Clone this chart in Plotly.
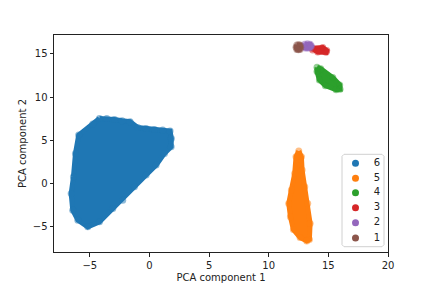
import plotly.graph_objects as go

labels = ["6", "5", "4", "3", "2", "1"]
colors = ["#1f77b4", "#ff7f0e", "#2ca02c", "#d62728", "#9467bd", "#8c564b"]

x6 = [-4.19,-3.58,-2.93,-2.29,-1.62,-0.98,-0.28,0.42,1.12,1.73,1.84,1.82,1.26,0.56,-0.28,-1.26,-2.24,-3.07,-4.19,-5.17,-6.0,-6.43,-6.56,-6.37,-6.2,-5.93,-4.75]
y6 = [7.5,7.5,7.4,7.25,7.13,6.47,6.35,6.24,6.16,6.05,5.19,4.22,3.45,2.09,0.93,-0.43,-1.98,-2.94,-4.5,-5.08,-4.3,-3.14,-1.2,0.73,3.45,5.58,6.86]
x5 = [12.52,12.74,12.80,13.02,13.27,13.47,13.41,13.19,12.63,12.07,11.82,11.68,11.90,12.18,12.29]
y5 = [3.72,3.06,1.51,-0.43,-2.36,-4.69,-6.55,-6.71,-6.32,-5.39,-3.92,-2.36,-0.81,1.12,3.06]
x4 = [14.05,14.36,15.37,15.95,15.98,15.65,14.75,14.25,14.05]
y4 = [13.45,13.29,12.25,11.40,10.89,10.85,11.32,11.98,12.95]
x3 = [13.63,14.53,14.86,14.81,14.11,13.69]
y3 = [15.66,15.74,15.39,15.19,15.23,15.47]
x2 = [13.02,13.25,13.48,13.58,13.48,13.25,13.02,12.92]
y2 = [16.14,16.18,16.12,15.92,15.72,15.66,15.7,15.92]
x1 = [12.36,12.49,12.62,12.69,12.62,12.49,12.36,12.29]
y1 = [16.03,16.07,16.03,15.78,15.53,15.49,15.53,15.78]

xs = [x6, x5, x4, x3, x2, x1]
ys = [y6, y5, y4, y3, y2, y1]

fig = go.Figure()
for lab, col, x, y in zip(labels, colors, xs, ys):
    fig.add_trace(go.Scatter(
        x=x + x[:1], y=y + y[:1], mode="lines", fill="toself", fillcolor=col,
        line=dict(color=col, width=5), name=lab, showlegend=False, hoverinfo="skip"))
    fig.add_trace(go.Scatter(
        x=x, y=y, mode="markers", marker=dict(color=col, size=7, opacity=0.5, line=dict(width=0)),
        name=lab, showlegend=False))

# Legend panel, laid out in pixel units on its own small axis pair
box_x = [2, 40, 42, 42, 40, 2, 0, 0, 2]
box_y = [0, 0, 2, 90.4, 92.4, 92.4, 90.4, 2, 0]
row_y = [9, 24, 38.5, 53.5, 68.5, 83.7]
fig.add_trace(go.Scatter(
    x=box_x, y=box_y, xaxis="x2", yaxis="y2", mode="lines", fill="toself",
    fillcolor="rgba(255,255,255,0.8)", line=dict(color="#d0d0d0", width=1),
    showlegend=False, hoverinfo="skip"))
fig.add_trace(go.Scatter(
    x=[13.5] * 6, y=row_y, xaxis="x2", yaxis="y2", mode="markers",
    marker=dict(color=colors, size=7), showlegend=False, hoverinfo="skip"))
fig.add_trace(go.Scatter(
    x=[35] * 6, y=row_y, xaxis="x2", yaxis="y2", mode="text", text=labels,
    textposition="middle center", textfont=dict(size=10, color="#222"),
    showlegend=False, hoverinfo="skip"))

axis = dict(showgrid=False, zeroline=False, showline=True, mirror=True, linecolor="#222",
            linewidth=1, ticks="outside", ticklen=3.5, tickwidth=1, tickcolor="#222",
            tickfont=dict(size=10, color="#222"), automargin=False)
fig.update_layout(
    width=432, height=288, margin=dict(l=54, r=44, t=35, b=36),
    paper_bgcolor="white", plot_bgcolor="white", showlegend=False,
    font=dict(family="DejaVu Sans", size=10, color="#222"),
    xaxis=dict(axis, range=[-8, 20], domain=[0, 1], tickvals=[-5, 0, 5, 10, 15, 20],
               ticktext=["\u22125", "0", "5", "10", "15", "20"],
               title=dict(text="PCA component 1", font=dict(size=10), standoff=4)),
    yaxis=dict(axis, range=[-8, 17.2], domain=[0, 1], tickvals=[-5, 0, 5, 10, 15],
               ticktext=["\u22125", "0", "5", "10", "15"],
               title=dict(text="PCA component 2", font=dict(size=10), standoff=4)),
    xaxis2=dict(visible=False, domain=[286 / 334, 332 / 334],
                range=[-2, 44], anchor="y2", fixedrange=True),
    yaxis2=dict(visible=False, domain=[3 / 217, 100 / 217],
                range=[94.7, -2.3], anchor="x2", fixedrange=True),
)
fig.write_html("out.html", config={"displayModeBar": False},
               post_script="document.body.style.margin='0';")
